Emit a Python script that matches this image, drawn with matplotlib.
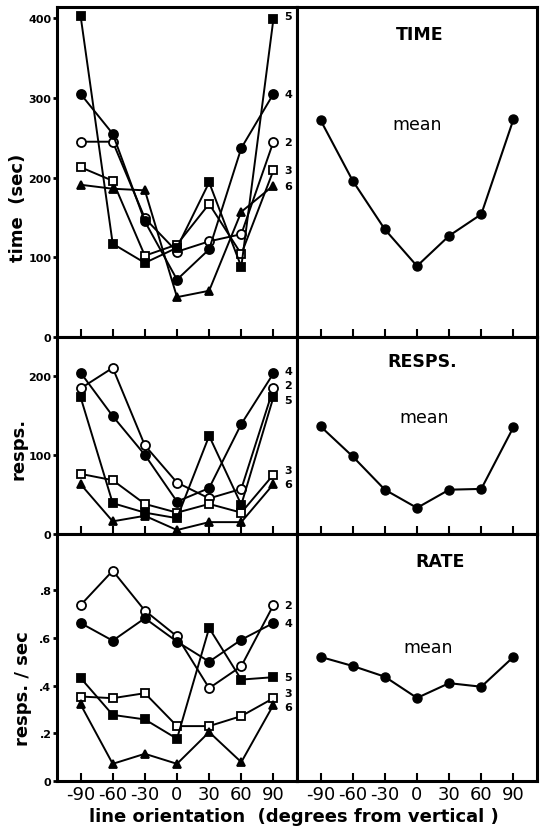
import numpy as np
import matplotlib.pyplot as plt

orient = [-90, -60, -30, 0, 30, 60, 90]
subjects = ["2", "3", "4", "5", "6"]

# time (sec) per subject
time_s2 = [245, 245, 149, 107, 120, 129, 245]
time_s3 = [213, 196, 102, 116, 167, 104, 209]
time_s4 = [305, 255, 145, 72, 110, 237, 305]
time_s5 = [403, 117, 93, 112, 194, 88, 399]
time_s6 = [191, 186, 184, 50, 58, 157, 190]
time_mean = [272, 196, 135, 89, 127, 154, 273]

# responses per subject
resp_s2 = [184, 210, 112, 65, 45, 57, 184]
resp_s3 = [76, 68, 38, 27, 38, 27, 75]
resp_s4 = [204, 149, 100, 41, 58, 139, 203]
resp_s5 = [173, 39, 27, 20, 124, 37, 173]
resp_s6 = [63, 16, 23, 5, 15, 15, 63]
resp_mean = [136, 98, 56, 33, 56, 57, 135]

# rate (resps / sec) per subject
rate_s2 = [0.737, 0.881, 0.714, 0.606, 0.389, 0.481, 0.737]
rate_s3 = [0.354, 0.347, 0.368, 0.230, 0.230, 0.272, 0.347]
rate_s4 = [0.662, 0.588, 0.682, 0.584, 0.500, 0.592, 0.662]
rate_s5 = [0.432, 0.277, 0.258, 0.177, 0.641, 0.425, 0.435]
rate_s6 = [0.321, 0.072, 0.114, 0.072, 0.205, 0.079, 0.319]
rate_mean = [0.52, 0.482, 0.437, 0.348, 0.41, 0.395, 0.52]

styles = {
    "2": dict(marker="o", mfc="white", ms=6.5),
    "3": dict(marker="s", mfc="white", ms=5.5),
    "4": dict(marker="o", mfc="black", ms=6.5),
    "5": dict(marker="s", mfc="black", ms=5.5),
    "6": dict(marker="^", mfc="black", ms=5.5),
}

rows = [
    dict(data=dict(zip(subjects, [time_s2, time_s3, time_s4, time_s5, time_s6])),
         mean=time_mean, ylim=414, yticks=[0, 100, 200, 300, 400],
         yticklabels=["0", "100", "200", "300", "400"], ylabel="time  (sec)",
         ylabel_xy=(-0.125, 0.394), title="TIME", title_xy=(0.51, 0.918), mean_xy=(0.50, 0.645),
         rect_y=(338, 8), label_y={"5": 403, "4": 305, "2": 245, "3": 210, "6": 189}),
    dict(data=dict(zip(subjects, [resp_s2, resp_s3, resp_s4, resp_s5, resp_s6])),
         mean=resp_mean, ylim=249, yticks=[0, 100, 200],
         yticklabels=["0", "100", "200"], ylabel="resps.",
         ylabel_xy=(-0.125, 0.437), title="RESPS.", title_xy=(0.52, 0.878), mean_xy=(0.53, 0.594),
         rect_y=(535, 338), label_y={"4": 206, "2": 188, "5": 170, "3": 81, "6": 63}),
    dict(data=dict(zip(subjects, [rate_s2, rate_s3, rate_s4, rate_s5, rate_s6])),
         mean=rate_mean, ylim=1.035, yticks=[0, 0.2, 0.4, 0.6, 0.8],
         yticklabels=["0", ".2", ".4", ".6", ".8"], ylabel="resps. / sec",
         ylabel_xy=(-0.105, 0.38), title="RATE", title_xy=(0.596, 0.89), mean_xy=(0.546, 0.543),
         rect_y=(782, 535), label_y={"2": 0.737, "4": 0.662, "5": 0.435, "3": 0.37, "6": 0.31}),
]

W, H = 540, 828
fig = plt.figure(figsize=(W / 100, H / 100), dpi=100)

for i, row in enumerate(rows):
    bottom_px, top_px = row["rect_y"]
    b = 1 - bottom_px / H
    h = (bottom_px - top_px) / H
    ax_l = fig.add_axes([57 / W, b, 240 / W, h])
    ax_r = fig.add_axes([297 / W, b, 240 / W, h])
    last = i == len(rows) - 1

    for s in subjects:
        st = styles[s]
        ax_l.plot(orient, row["data"][s], color="black", lw=1.4, marker=st["marker"],
                  ms=st["ms"], mfc=st["mfc"], mec="black", mew=1.3, clip_on=False, zorder=3)
        ax_l.text(100, row["label_y"][s], s, fontsize=8, fontweight="bold",
                  ha="left", va="center")

    ax_r.plot(orient, row["mean"], color="black", lw=1.5, marker="o", ms=6.5,
              mfc="black", mec="black", zorder=3)
    ax_r.text(*row["title_xy"], row["title"], transform=ax_r.transAxes, fontsize=12.5,
              fontweight="bold", ha="center", va="center")
    ax_r.text(*row["mean_xy"], "mean", transform=ax_r.transAxes, fontsize=12.5,
              ha="center", va="center")

    for ax in (ax_l, ax_r):
        ax.set_xlim(-112, 112)
        ax.set_ylim(0, row["ylim"])
        ax.set_xticks(orient)
        ax.tick_params(axis="x", direction="in", length=6, width=1.5, pad=3)
        if last:
            ax.set_xticklabels([str(v) for v in orient], fontsize=13)
        else:
            ax.set_xticklabels([])
        for sp in ax.spines.values():
            sp.set_linewidth(2.2)

    ax_l.set_yticks(row["yticks"])
    ax_l.set_yticklabels(row["yticklabels"], fontsize=8, fontweight="bold")
    ax_l.tick_params(axis="y", direction="out", length=3, width=2, pad=1)
    ax_l.set_ylabel(row["ylabel"], fontsize=13, fontweight="bold")
    ax_l.yaxis.set_label_coords(*row["ylabel_xy"])
    ax_r.set_yticks([])

fig.text(294 / W, 1 - 817 / H, "line orientation  (degrees from vertical )",
         fontsize=13, fontweight="bold", ha="center", va="center")

fig.savefig("out.png", dpi=100)
